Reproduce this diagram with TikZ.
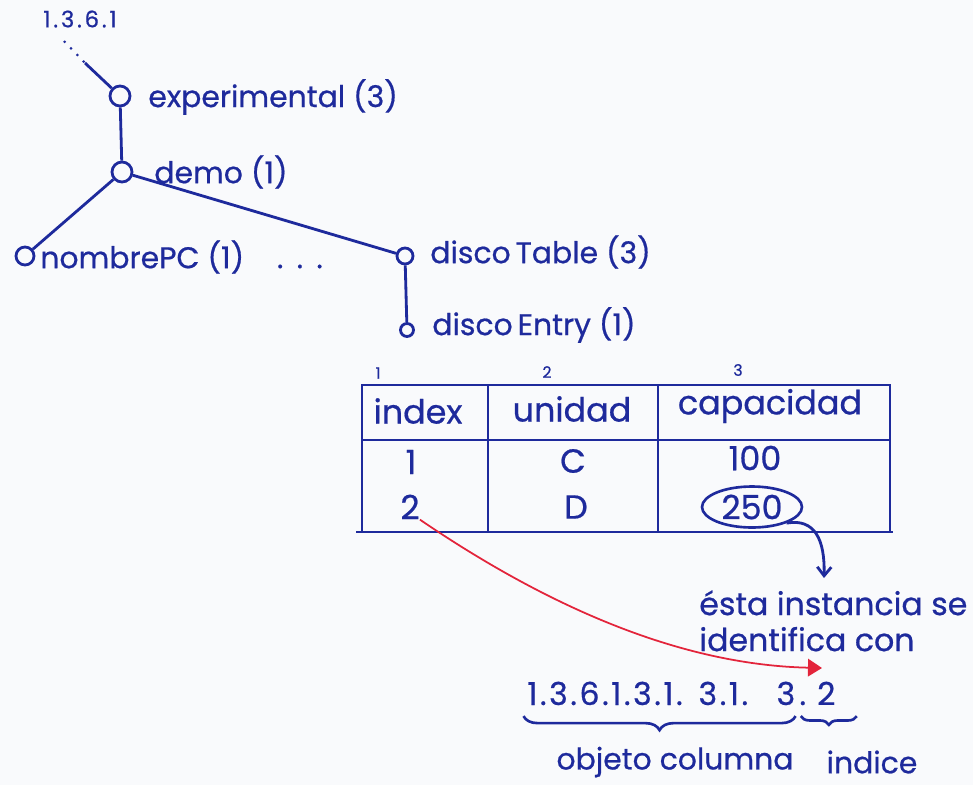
\documentclass[tikz,border=0pt]{standalone}
\usepackage{fontspec}
\setmainfont{Poppins}[FakeBold=0.6]
\usetikzlibrary{arrows.meta, calc, positioning, shapes.geometric, decorations.pathreplacing}
\definecolor{Ink}   {HTML}{1E2A9C}
\definecolor{RedInk}{HTML}{E3243B}
\definecolor{Paper} {HTML}{F9FAFC}
\tikzset{
  oidnode/.style={
    circle, draw=Ink, fill=Paper, line width=1.6pt,
    inner sep=0pt, minimum size=#1,
  },
  lbl/.style={
    anchor=west, inner sep=0pt, text=Ink,
    font=\fontsize{17}{20}\selectfont,
  },
  cell/.style={
    inner sep=0pt, text=Ink,
    font=\fontsize{19}{22}\selectfont,
  },
  colnum/.style={
    inner sep=0pt, text=Ink,
    font=\fontsize{9}{10}\selectfont,
  },
  edge/.style={draw=Ink, line width=1.6pt},
  tline/.style={draw=Ink, line width=1.5pt},
  brc/.style={
    decorate, decoration={brace, mirror, amplitude=#1},
    draw=Ink, line width=1.5pt,
  },
}

\begin{document}
\begin{tikzpicture}[x=0.02cm,y=-0.02cm]
  \fill[Paper] (0,0) rectangle (973,785);
  \useasboundingbox (0,0) rectangle (973,785);

  % arbol de objetos
  \node[cell, font=\fontsize{13}{15}\selectfont\addfontfeatures{LetterSpace=12}]
        (root) at (80,19) {1.3.6.1};
  \coordinate (rdot) at (64,41);
  \coordinate (rtop) at (85,63);
  \node[oidnode=0.40cm] (exp)  at (120,96)  {};
  \node[oidnode=0.40cm] (demo) at (122,172) {};
  \node[oidnode=0.36cm] (npc)  at (25,256)  {};
  \node[oidnode=0.32cm] (dtab) at (405,256) {};
  \node[oidnode=0.26cm] (dent) at (407,330) {};
  \node[lbl] (expl)  at (148,97)  {experimental (3)};
  \node[lbl] (demol) at (154,172) {demo (1)};
  \node[lbl] (npcl)  at (40,257)
        {nombrePC (1)\hspace{1.1em}.\hspace{0.45em}.\hspace{0.45em}.};
  \node[lbl] (dtabl) at (430,252) {disco\,Table (3)};
  \node[lbl] (dentl) at (432,325) {disco\,Entry (1)};
  \draw[edge, line width=1.2pt, dash pattern=on 1.2pt off 4pt] (rdot) -- (rtop);
  \draw[edge] (rtop) -- (exp);
  \draw[edge] (exp) -- (demo);
  \draw[edge] (demo) -- (npc);
  \draw[edge] (demo) -- (dtab);
  \draw[edge] (dtab) -- (dent);

  % tabla
  \draw[tline] (362,385) rectangle (890,532);
  \draw[tline] (362,440) -- (890,440);
  \draw[tline] (488,385) -- (488,532);
  \draw[tline] (658,385) -- (658,532);
  \draw[tline] (356,532) -- (893,532);
  \node[colnum] (n1) at (378,373) {1};
  \node[colnum] (n2) at (547,372) {2};
  \node[colnum] (n3) at (738,370) {3};
  \node[cell] (hidx) at (418,411) {index};
  \node[cell] (huni) at (572,409) {unidad};
  \node[cell] (hcap) at (770,406) {capacidad};
  \node[cell] (i1) at (411,462) {1};
  \node[cell] (u1) at (573,461) {C};
  \node[cell] (c1) at (755,458) {100};
  \node[cell] (i2) at (410,507) {2};
  \node[cell] (u2) at (576,507) {D};
  \node[cell, ellipse, draw=Ink, line width=1.5pt,
        minimum width=2.0cm, minimum height=0.82cm] (c2) at (752,507) {250};

  % anotacion
  \node[lbl, anchor=north west, align=left,
        font=\fontsize{18}{20.5}\selectfont] (note) at (699,590)
        {ésta instancia se\\identifica con};
  \coordinate (ntop) at (824,578);
  \draw[edge, -{Straight Barb[length=5pt,width=8pt]}]
        (c2.-25) .. controls (815,518) and (825,540) .. (ntop);

  \node[cell, anchor=base west, font=\fontsize{18}{20}\selectfont\addfontfeatures{LetterSpace=8}]
        (oidA) at (527,705) {1.3.6.1.3.1.\hspace{0.5em}3.1.\hspace{0.9em}3};
  \node[cell, anchor=base west, font=\fontsize{18}{20}\selectfont\addfontfeatures{LetterSpace=8}]
        (oidB) at ([xshift=2pt]oidA.base east) {.\hspace{0.35em}2};
  \coordinate (rtip) at (822,668);
  \draw[RedInk, line width=1pt, -{Triangle[length=8pt,width=10pt]}]
        (i2.south east) .. controls (560,615) and (690,665) .. (rtip);

  \draw[brc=8pt] ([yshift=-6pt,xshift=-2pt]oidA.south west) -- ([yshift=-6pt]oidA.south east);
  \draw[brc=5pt] ([yshift=-6pt,xshift=1pt]oidB.south west) -- ([yshift=-6pt,xshift=12pt]oidB.south east);
  \node[cell, font=\fontsize{17}{20}\selectfont] (ocol) at (675,762) {objeto columna};
  \node[cell, font=\fontsize{17}{20}\selectfont] (oind) at (872,762) {indice};
\end{tikzpicture}
\end{document}
